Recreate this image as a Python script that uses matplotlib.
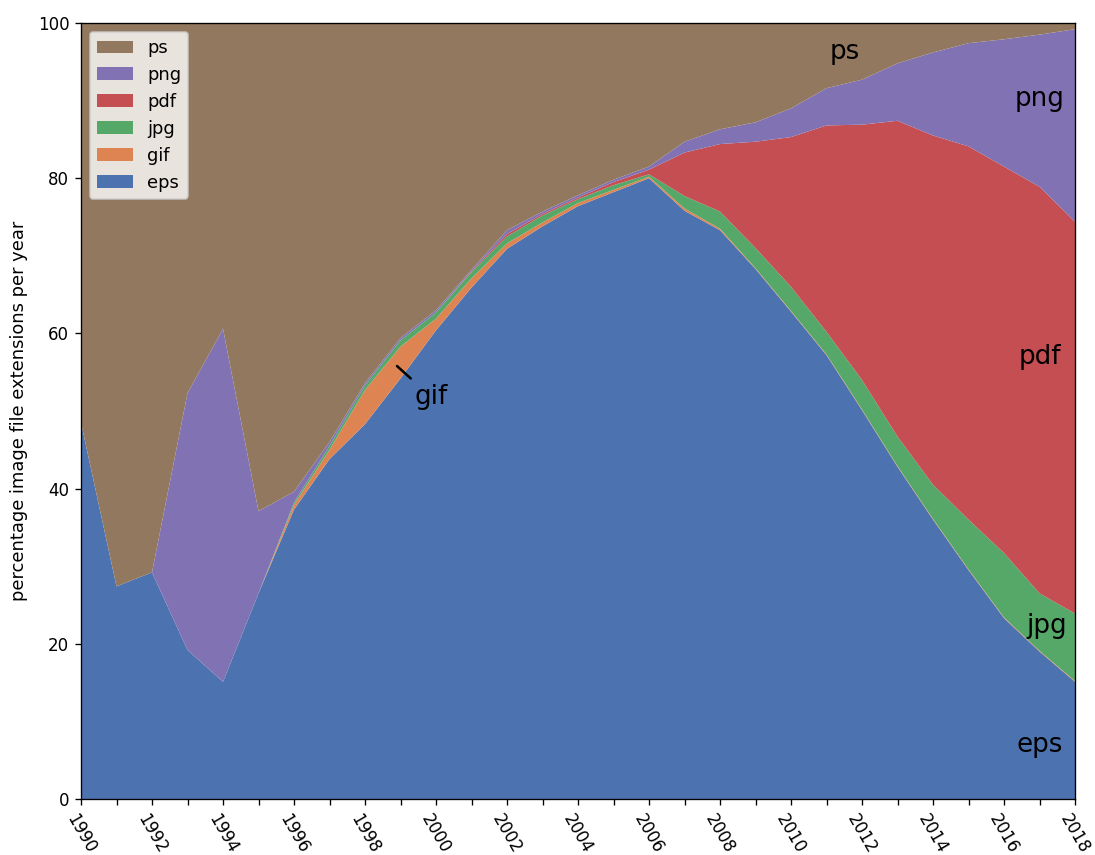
import matplotlib
matplotlib.use("Agg")
import matplotlib.pyplot as plt
import numpy as np

years = list(range(1990, 2019))
eps = [48.5, 27.4, 29.2, 19.2, 15.1, 26.5, 37.3, 43.8, 48.3, 54.2, 60.4, 65.9, 70.9, 73.8, 76.4,
       78.2, 80.0, 75.8, 73.3, 68.3, 62.8, 57.2, 50.1, 42.8, 36.0, 29.5, 23.3, 19.0, 15.1]
gif = [0, 0, 0, 0, 0, 0, 0.6, 1.2, 4.4, 4.1, 1.5, 1.2, 0.7, 0.5, 0.4,
       0.3, 0.2, 0.3, 0.2, 0.1, 0.1, 0.1, 0.1, 0.1, 0.1, 0.1, 0.1, 0.1, 0.1]
jpg = [0, 0, 0, 0, 0, 0, 0.3, 0.5, 0.6, 0.8, 0.8, 0.8, 0.9, 0.9, 0.5,
       0.6, 0.3, 1.6, 2.2, 2.6, 3.1, 2.9, 3.8, 3.8, 4.4, 6.4, 8.3, 7.4, 8.7]
pdf = [0, 0, 0, 0, 0, 0, 0, 0, 0, 0, 0, 0.1, 0.3, 0.2, 0.2,
       0.4, 0.6, 5.6, 8.7, 13.7, 19.3, 26.6, 32.9, 40.7, 45.0, 48.1, 49.8, 52.4, 50.5]
png = [0, 0, 0, 33.1, 45.5, 10.6, 1.4, 0.5, 0.3, 0.3, 0.3, 0.2, 0.5, 0.3, 0.3,
       0.3, 0.4, 1.4, 1.9, 2.5, 3.7, 4.8, 5.8, 7.4, 10.7, 13.3, 16.4, 19.6, 24.8]
ps = [51.5, 72.6, 70.8, 47.7, 39.4, 62.9, 60.4, 54.0, 46.4, 40.6, 37.0, 31.8, 26.7, 24.3, 22.2,
      20.2, 18.5, 15.3, 13.7, 12.8, 11.0, 8.4, 7.3, 5.2, 3.8, 2.6, 2.1, 1.5, 0.8]

labels = ["eps", "gif", "jpg", "pdf", "png", "ps"]
colors = ["#4C72B0", "#DD8452", "#55A868", "#C44E52", "#8172B3", "#937860"]

DPI = 120
fig = plt.figure(figsize=(1095 / DPI, 855 / DPI), dpi=DPI)
ax = fig.add_axes([81 / 1095, 1 - 799 / 855, (1075 - 81) / 1095, (799 - 23) / 855])
ax.stackplot(years, eps, gif, jpg, pdf, png, ps, labels=labels, colors=colors)

ax.set_xlim(1990, 2018)
ax.set_ylim(0, 100)
ax.set_xticks(years)
ax.set_xticklabels([str(y) if y % 2 == 0 else "" for y in years], rotation=-60)
ax.set_yticks([0, 20, 40, 60, 80, 100])
ax.set_ylabel("percentage image file extensions per year", fontsize=10.7, labelpad=6)

handles, labs = ax.get_legend_handles_labels()
ax.legend(handles[::-1], labs[::-1], loc="upper left", fontsize=10.7)

fs = 15.7
ax.text(2011.5, 96.3, "ps", fontsize=fs, ha="center", va="center")
ax.text(2017.0, 90.2, "png", fontsize=fs, ha="center", va="center")
ax.text(2017.0, 57.0, "pdf", fontsize=fs, ha="center", va="center")
ax.text(2017.2, 22.3, "jpg", fontsize=fs, ha="center", va="center")
ax.text(2017.0, 7.0, "eps", fontsize=fs, ha="center", va="center")
ax.annotate("gif", xy=(1998.9, 55.8), xytext=(1999.4, 51.8), fontsize=fs,
            ha="left", va="center",
            arrowprops=dict(arrowstyle="-", color="black", lw=1.5, shrinkA=2, shrinkB=0))

fig.savefig("out.png", dpi=DPI)
